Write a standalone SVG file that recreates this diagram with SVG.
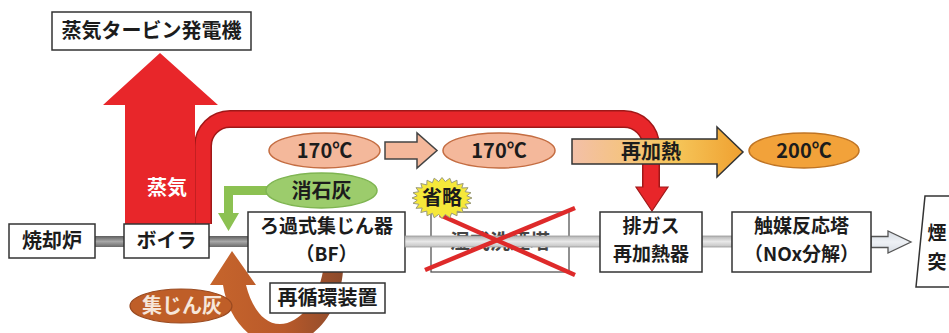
<svg xmlns="http://www.w3.org/2000/svg" width="949" height="333" viewBox="0 0 949 333">
<defs>
<linearGradient id="pd" x1="0" y1="0" x2="0" y2="1"><stop offset="0" stop-color="#5e5e5e"/><stop offset="0.5" stop-color="#a8a8a8"/><stop offset="1" stop-color="#6a6a6a"/></linearGradient>
<linearGradient id="pl" x1="0" y1="0" x2="0" y2="1"><stop offset="0" stop-color="#b4b4b4"/><stop offset="0.5" stop-color="#e8e8e8"/><stop offset="1" stop-color="#c2c2c2"/></linearGradient>
<linearGradient id="pb" x1="0" y1="0" x2="0" y2="1"><stop offset="0" stop-color="#d4dae2"/><stop offset="0.5" stop-color="#eef1f5"/><stop offset="1" stop-color="#d8dde4"/></linearGradient>
<linearGradient id="rh" x1="572" y1="0" x2="743" y2="0" gradientUnits="userSpaceOnUse"><stop offset="0" stop-color="#f3c0a8"/><stop offset="0.6" stop-color="#f6c65a"/><stop offset="1" stop-color="#efa030"/></linearGradient>
<linearGradient id="br" x1="210" y1="0" x2="345" y2="0" gradientUnits="userSpaceOnUse"><stop offset="0" stop-color="#c6652c"/><stop offset="0.55" stop-color="#b9592a"/><stop offset="1" stop-color="#8a4a2c"/></linearGradient>
<style>
.t{font-family:"Noto Sans CJK JP","Noto Sans",sans-serif;font-weight:bold;font-size:20px;fill:#1c1c1c;text-anchor:middle}
.s{font-size:19px}
.w{fill:#ffffff}
.bx{fill:#ffffff;stroke:#333333;stroke-width:1.5}
.el{fill:#f4b89b;stroke:#c46d42;stroke-width:1.5}
</style>
</defs>

<g id="connectors">
  <path d="M203,224 L203,146 A27,27 0 0 1 230,119 L624,119 A27,27 0 0 1 651,146 L651,188" fill="none" stroke="#a01818" stroke-width="18"/>
  <polygon points="636,187 668,187 652,211" fill="#e8262a" stroke="#a01818" stroke-width="1.2"/>
  <path d="M203,224 L203,146 A27,27 0 0 1 230,119 L624,119 A27,27 0 0 1 651,146 L651,190" fill="none" stroke="#e8262a" stroke-width="15"/>
  <polygon points="125,224 125,105 103,105 160,53 218,105 195,105 195,224" fill="#e8262a"/>
  <polygon points="572,139 717,139 717,127 743,152 717,177 717,164 572,164" fill="url(#rh)" stroke="#333333" stroke-width="1.5"/>
  <polygon points="385,142 417,142 417,133 437,150.5 417,168 417,159 385,159" fill="#f4b89b" stroke="#444444" stroke-width="1.5"/>
  <polygon points="268,186 224,186 224,213 218,213 228.5,231 239,213 233,213 233,195 268,195" fill="#8cc152"/>
  <rect x="95" y="236" width="30" height="11" fill="url(#pd)"/>
  <rect x="209" y="236" width="39" height="11" fill="url(#pd)"/>
  <path d="M232,251 L256,285 L246,285 C251,305 262,324 280,324 C300,324 318,300 323,271 L343,271 C340,310 315,345 280,345 C250,345 228,318 223,285 L210,285 Z" fill="url(#br)"/>
</g>

<g id="n-turbine"><rect class="bx" x="52" y="12" width="199" height="38"/><text class="t" x="151.5" y="38">蒸気タービン発電機</text></g>
<g id="n-steam-label"><text class="t w" x="167" y="195" font-size="21">蒸気</text></g>
<g id="n-incinerator"><rect class="bx" x="9" y="224" width="86" height="34"/><text class="t" x="52" y="248">焼却炉</text></g>
<g id="n-boiler"><rect class="bx" x="124" y="224" width="85" height="34"/><text class="t" x="166.5" y="248">ボイラ</text></g>
<g id="n-bf"><rect class="bx" x="248" y="212" width="157" height="60"/><text class="t s" x="326.5" y="233">ろ過式集じん器</text><text class="t s" x="326.5" y="261">（BF）</text></g>
<g id="n-recirc"><rect class="bx" x="270" y="283" width="115" height="30"/><text class="t" x="327.5" y="305">再循環装置</text></g>

<g id="n-omitted">
  <rect x="431" y="212" width="138" height="60" fill="#ffffff" stroke="#555555" stroke-width="1.3"/>
  <text class="t" x="500" y="249" style="fill:#444444">湿式洗煙塔</text>
</g>
<g id="connectors-2">
  <rect x="405" y="236" width="195" height="11" fill="url(#pl)" stroke="#9a9a9a" stroke-width="0.8"/>
  <rect x="702" y="236" width="30" height="11" fill="url(#pl)" stroke="#9a9a9a" stroke-width="0.8"/>
  <polygon points="871,236.5 888,236.5 888,231 911,242 888,253 888,247.5 871,247.5" fill="url(#pb)" stroke="#555555" stroke-width="1.3"/>
  <line x1="440" y1="215" x2="575" y2="275" stroke="#de2a2a" stroke-width="4.5"/>
  <line x1="575" y1="208" x2="425" y2="270" stroke="#de2a2a" stroke-width="4.5"/>
</g>
<g id="n-omit-burst">
  <polygon points="472,198 466.8,200.2 471,203.3 465.1,204.3 468,208.3 461.8,208 463.2,212.5 457.2,211.1 457,215.8 451.6,213.2 449.8,217.8 445.3,214.4 442,218.5 438.7,214.4 434.2,217.8 432.4,213.2 427,215.8 426.8,211.1 420.8,212.5 422.2,208 416,208.3 418.9,204.3 413,203.3 417.2,200.2 412,198 417.2,195.8 413,192.7 418.9,191.7 416,187.7 422.2,188 420.8,183.5 426.8,184.9 427,180.2 432.4,182.8 434.2,178.2 438.7,181.6 442,177.5 445.3,181.6 449.8,178.2 451.6,182.8 457,180.2 457.2,184.9 463.2,183.5 461.8,188 468,187.7 465.1,191.7 471,192.7 466.8,195.8" fill="#f6e83a" stroke="#9a9a7a" stroke-width="1"/>
  <text class="t" x="442" y="205">省略</text>
</g>

<g id="n-reheater"><rect class="bx" x="600" y="212" width="102" height="60"/><text class="t s" x="651" y="233">排ガス</text><text class="t s" x="651" y="261">再加熱器</text></g>
<g id="n-catalyst"><rect class="bx" x="732" y="212" width="139" height="60"/><text class="t s" x="801.5" y="233">触媒反応塔</text><text class="t s" x="801.5" y="261">（NOx分解）</text></g>
<g id="n-chimney"><polygon points="925,196 956,196 962,287 916,287" fill="#ffffff" stroke="#333333" stroke-width="1.5"/><text class="t s" x="937" y="240">煙</text><text class="t s" x="937" y="269">突</text></g>

<g id="n-temp1"><ellipse class="el" cx="324.5" cy="150.5" rx="55.5" ry="17.5"/><text class="t" x="324.5" y="158">170℃</text></g>
<g id="n-temp2"><ellipse class="el" cx="499" cy="150.5" rx="56" ry="17.5"/><text class="t" x="499" y="158">170℃</text></g>
<g id="n-reheat-label"><text class="t" x="651" y="159">再加熱</text></g>
<g id="n-temp3"><ellipse cx="804" cy="150.5" rx="55" ry="17.5" fill="#f2a23a" stroke="#bf7424" stroke-width="1.5"/><text class="t" x="804" y="158">200℃</text></g>
<g id="n-lime"><ellipse cx="321.5" cy="190.5" rx="55.5" ry="17.5" fill="#9ccc6c" stroke="#7fb552" stroke-width="1.5"/><text class="t" x="321.5" y="198">消石灰</text></g>
<g id="n-ash"><ellipse cx="181" cy="306" rx="51" ry="17" fill="#bf5e28" stroke="#9a4a20" stroke-width="1.2"/><text class="t" x="182" y="313" style="fill:#f6e6da">集じん灰</text></g>
</svg>
